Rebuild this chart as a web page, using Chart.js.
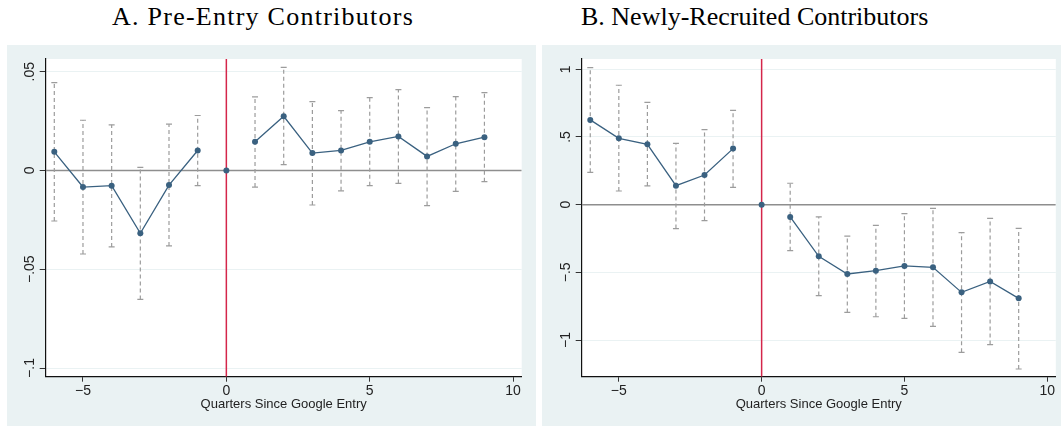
<!DOCTYPE html>
<html>
<head>
<meta charset="utf-8">
<script src="https://cdn.jsdelivr.net/npm/chart.js@4"></script>
<style>
  body { margin: 0; background: #fff; width: 1061px; height: 427px; position: relative; overflow: hidden; }
  .title { position: absolute; top: 0; font-family: "Liberation Serif", "Times New Roman", serif; font-size: 26px; color: #000; white-space: nowrap; line-height: 34px; }
  .panel { position: absolute; top: 45px; height: 381px; background: #eaf2f3; }
  .panel canvas { display: block; }
</style>
</head>
<body>
<div class="title" style="left:112px;letter-spacing:1.25px">A. Pre-Entry Contributors</div>
<div class="title" style="left:581px">B. Newly-Recruited Contributors</div>
<div class="panel" style="left:7px;width:529px"><canvas id="chartA" width="529" height="381"></canvas></div>
<div class="panel" style="left:542px;width:519px"><canvas id="chartB" width="519" height="381"></canvas></div>
<script>
// Event-study estimates by quarter relative to Google's entry
const quarters = [-6, -5, -4, -3, -2, -1, 0, 1, 2, 3, 4, 5, 6, 7, 8, 9];

// Panel A: pre-entry contributors
const coefA = [0.0094, -0.0084, -0.0077, -0.0318, -0.0074, 0.0101, 0, 0.0145, 0.0274, 0.0088, 0.0101, 0.0145, 0.0172, 0.0071, 0.0135, 0.0168];
const lowA = [-0.0256, -0.0423, -0.0387, -0.0653, -0.0382, -0.0077, null, -0.0084, 0.0029, -0.0175, -0.0103, -0.0077, -0.0066, -0.0178, -0.0106, -0.0057];
const highA = [0.0444, 0.0254, 0.0231, 0.0015, 0.0234, 0.0278, null, 0.0372, 0.0522, 0.0348, 0.0303, 0.0369, 0.0409, 0.0318, 0.0374, 0.0394];

// Panel B: newly-recruited contributors
const coefB = [0.626, 0.490, 0.446, 0.140, 0.219, 0.414, 0, -0.091, -0.382, -0.512, -0.488, -0.453, -0.463, -0.648, -0.567, -0.692];
const lowB = [0.239, 0.101, 0.138, -0.177, -0.118, 0.128, null, -0.340, -0.672, -0.796, -0.828, -0.840, -0.899, -1.091, -1.034, -1.214];
const highB = [1.012, 0.882, 0.756, 0.453, 0.554, 0.697, null, 0.158, -0.091, -0.232, -0.153, -0.067, -0.027, -0.207, -0.101, -0.175];

// Axis ticks
const xTicks = [-5, 0, 5, 10];
const xTickLabels = ['\u22125', '0', '5', '10'];
const yTicksA = [-0.1, -0.05, 0, 0.05];
const yTickLabelsA = ['\u2212.1', '\u2212.05', '0', '.05'];
const yTicksB = [-1, -0.5, 0, 0.5, 1];
const yTickLabelsB = ['\u22121', '\u2212.5', '0', '.5', '1'];
const xTitle = 'Quarters Since Google Entry';

const navy = '#3a6180';
const ciGray = '#9c9c9c';
const entryRed = '#d4264a';
const zeroGray = '#8e8e8e';
const tickFont = { family: '"Liberation Sans", Arial, sans-serif', size: 14 };

// white plot region on the tinted panel
const plotBg = {
  id: 'plotBg',
  beforeDraw(chart) {
    const { ctx, chartArea: a } = chart;
    ctx.save();
    ctx.fillStyle = '#fff';
    ctx.fillRect(a.left, a.top, a.right - a.left, a.bottom - a.top);
    ctx.restore();
  }
};

// y labels run bottom-to-top beside each tick
const rotatedYLabels = {
  id: 'rotatedYLabels',
  afterDraw(chart, args, opts) {
    const s = chart.scales.y;
    const ctx = chart.ctx;
    ctx.save();
    ctx.font = '14px "Liberation Sans", Arial, sans-serif';
    ctx.fillStyle = '#222';
    ctx.textAlign = 'center';
    ctx.textBaseline = 'alphabetic';
    s.ticks.forEach((t, i) => {
      const y = s.getPixelForValue(t.value);
      ctx.save();
      ctx.translate(s.right - opts.offset, y);
      ctx.rotate(-Math.PI / 2);
      ctx.fillText(opts.labels[i], 0, 0);
      ctx.restore();
    });
    ctx.restore();
  }
};

function ciPoints(low, high) {
  const pts = [];
  quarters.forEach((q, i) => {
    if (low[i] === null) return;
    pts.push({ x: q, y: low[i] }, { x: q, y: high[i] }, { x: q, y: null });
  });
  return pts;
}

function makePanel(id, coef, low, high, yMin, yMax, yTicks, yLabels, rightPad, yWidth) {
  const xMin = -6.3, xMax = 10.3;
  const touchesEntry = c => c.p0.parsed.x === 0 || c.p1.parsed.x === 0;
  return new Chart(document.getElementById(id), {
    type: 'line',
    data: {
      datasets: [
        {
          data: quarters.map((q, i) => ({ x: q, y: coef[i] })),
          borderColor: navy,
          borderWidth: 1.3,
          pointRadius: 3,
          pointBackgroundColor: navy,
          pointBorderColor: navy,
          pointBorderWidth: 0,
          segment: { borderColor: c => touchesEntry(c) ? 'rgba(0,0,0,0)' : navy },
          order: 0
        },
        {
          data: ciPoints(low, high),
          borderColor: ciGray,
          borderWidth: 1.2,
          borderDash: [4, 3],
          pointStyle: 'line',
          pointRadius: 3,
          pointBorderColor: ciGray,
          pointBorderWidth: 1.2,
          spanGaps: false,
          order: 1
        },
        {
          data: [{ x: 0, y: yMin }, { x: 0, y: yMax }],
          borderColor: entryRed,
          borderWidth: 1.5,
          pointRadius: 0,
          order: 2
        },
        {
          data: [{ x: xMin, y: 0 }, { x: xMax, y: 0 }],
          borderColor: zeroGray,
          borderWidth: 1.5,
          pointRadius: 0,
          order: 3
        }
      ]
    },
    options: {
      responsive: false,
      animation: false,
      devicePixelRatio: 1,
      events: [],
      layout: { padding: { top: 14, right: rightPad, left: 0, bottom: 0 } },
      plugins: {
        legend: { display: false },
        tooltip: { enabled: false },
        rotatedYLabels: { labels: yLabels, offset: 12 }
      },
      scales: {
        x: {
          type: 'linear',
          min: xMin,
          max: xMax,
          afterBuildTicks: s => { s.ticks = xTicks.map(v => ({ value: v })); },
          afterFit: s => { s.height = 49.3; },
          ticks: {
            callback: (v, i) => xTickLabels[i],
            color: '#222',
            font: tickFont,
            padding: 1,
            maxRotation: 0
          },
          grid: { drawOnChartArea: false, tickLength: 5, tickColor: '#333', lineWidth: 1 },
          border: { color: '#111', width: 1.2 },
          title: {
            display: true,
            text: xTitle,
            color: '#222',
            font: { family: '"Liberation Sans", Arial, sans-serif', size: 13 },
            padding: { top: 0, bottom: 14 }
          }
        },
        y: {
          type: 'linear',
          min: yMin,
          max: yMax,
          afterBuildTicks: s => { s.ticks = yTicks.map(v => ({ value: v })); },
          afterFit: s => { s.width = yWidth; },
          ticks: { display: false },
          grid: { color: '#eaf2f3', lineWidth: 1, tickLength: 6, tickColor: '#333' },
          border: { color: '#111', width: 1.2 }
        }
      }
    },
    plugins: [plotBg, rotatedYLabels]
  });
}

makePanel('chartA', coefA, lowA, highA, -0.1044, 0.0564, yTicksA, yTickLabelsA, 14.3, 38.7);
makePanel('chartB', coefB, lowB, highB, -1.271, 1.076, yTicksB, yTickLabelsB, 4, 39.7);
</script>
</body>
</html>
